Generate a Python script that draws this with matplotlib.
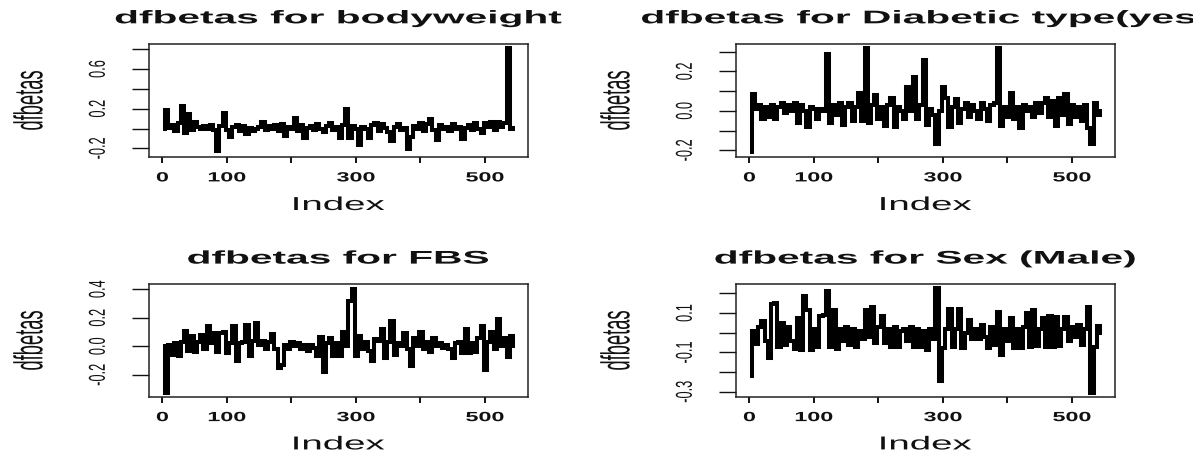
import numpy as np
import matplotlib
matplotlib.use("Agg")
import matplotlib.pyplot as plt
from matplotlib.patheffects import AbstractPathEffect
from matplotlib.transforms import Affine2D

# ---------------- data (dfbetas, sampled every 5th observation) ----------------
bodyweight = [0.0, 0.19, 0.01, 0.04, -0.03, 0.06, 0.23, -0.05, 0.15, -0.02,
              0.07, 0.02, -0.01, 0.03, 0.0, 0.04, -0.02, -0.23, 0.03, 0.16,
              -0.02, -0.09, 0.02, 0.04, -0.03, 0.03, -0.06, 0.01, -0.03, 0.0,
              0.02, 0.07, -0.02, 0.03, 0.0, 0.04, -0.03, 0.05, -0.08, 0.02,
              0.0, 0.11, -0.03, 0.04, -0.1, 0.01, 0.03, -0.02, 0.05, 0.0,
              -0.04, 0.03, 0.06, -0.02, 0.02, -0.1, 0.04, 0.2, -0.1, 0.03,
              0.0, -0.17, 0.02, 0.0, -0.1, 0.04, 0.06, -0.03, 0.05, 0.01,
              -0.04, -0.13, 0.02, 0.05, -0.02, 0.01, -0.21, -0.09, 0.03, 0.0,
              0.06, -0.03, 0.05, 0.1, -0.02, -0.12, 0.04, 0.0, 0.02, -0.03,
              0.05, 0.0, 0.02, -0.11, 0.01, 0.04, -0.02, 0.06, 0.0, -0.05,
              0.06, 0.02, 0.07, -0.02, 0.07, 0.02, 0.06, 0.81, 0.0, 0.01]

diabetic = [-0.21, 0.085, 0.01, 0.03, -0.04, 0.02, -0.03, 0.03, -0.04, 0.02,
            0.04, -0.01, 0.03, 0.0, 0.04, -0.06, 0.03, 0.0, -0.08, 0.02,
            0.01, -0.04, 0.01, 0.0, 0.29, -0.06, 0.03, -0.02, 0.04, -0.07,
            0.02, 0.04, -0.05, 0.02, 0.09, -0.05, 0.32, -0.06, 0.03, 0.08,
            -0.04, 0.02, -0.075, 0.03, 0.065, -0.08, 0.02, 0.0, -0.04, 0.12,
            0.0, 0.17, -0.04, 0.03, 0.26, -0.07, 0.01, -0.02, -0.17, 0.0,
            0.12, 0.065, -0.08, 0.02, 0.058, -0.06, 0.01, 0.04, -0.03, 0.03,
            0.0, -0.04, 0.04, 0.01, -0.05, 0.03, 0.04, 0.32, -0.075, 0.02,
            -0.03, 0.09, -0.04, 0.02, -0.085, 0.03, 0.0, 0.02, -0.03, 0.04,
            -0.01, 0.04, 0.066, -0.03, 0.05, -0.075, 0.066, -0.02, 0.084, -0.067,
            0.03, -0.03, 0.02, -0.05, 0.03, -0.085, -0.17, 0.04, -0.02, 0.0]

fbs = [0.0, -0.325, 0.01, -0.06, 0.02, -0.07, 0.03, 0.11, -0.03, 0.075,
       -0.04, 0.03, 0.08, -0.02, 0.14, 0.02, 0.09, -0.04, 0.09, 0.1,
       -0.05, 0.02, 0.14, -0.1, 0.02, 0.03, 0.146, -0.07, 0.04, 0.16,
       0.01, 0.04, -0.02, 0.03, 0.085, -0.02, -0.15, -0.13, 0.01, -0.02,
       0.03, 0.0, 0.02, -0.02, 0.01, -0.03, 0.01, -0.01, -0.07, 0.065,
       -0.18, 0.02, 0.06, -0.07, 0.02, -0.07, 0.1, 0.0, 0.32, 0.405,
       -0.07, 0.07, -0.02, 0.03, -0.03, -0.105, 0.05, 0.04, 0.12, -0.08,
       0.03, 0.18, -0.06, 0.02, 0.0, 0.09, -0.02, -0.135, 0.06, 0.0,
       0.1, -0.02, 0.03, -0.04, 0.06, 0.0, 0.02, -0.01, 0.01, -0.02,
       -0.08, 0.02, 0.03, -0.05, 0.12, -0.05, 0.02, -0.04, 0.06, 0.14,
       -0.165, 0.03, 0.1, -0.02, 0.19, 0.0, 0.06, -0.075, 0.07, 0.0]

sex_male = [-0.22, 0.01, -0.055, 0.03, 0.06, -0.04, -0.13, 0.145, 0.15, -0.07,
            0.05, -0.06, 0.03, -0.04, -0.085, 0.073, -0.088, 0.186, 0.115, -0.088,
            0.02, -0.075, 0.085, 0.09, 0.21, -0.075, 0.115, -0.083, 0.02, -0.04,
            0.03, -0.06, 0.02, -0.075, 0.01, -0.03, 0.115, -0.02, 0.13, -0.05,
            0.03, 0.085, -0.05, 0.02, -0.07, 0.03, -0.075, 0.01, 0.02, -0.04,
            0.03, -0.07, 0.02, -0.07, 0.01, -0.09, 0.02, -0.03, 0.225, -0.245,
            -0.08, 0.02, 0.118, -0.07, 0.02, 0.123, -0.08, 0.0, 0.064, -0.034,
            0.02, -0.03, 0.04, -0.02, -0.08, 0.03, -0.06, 0.107, -0.113, 0.02,
            -0.04, 0.073, -0.08, 0.02, -0.08, 0.03, 0.098, -0.07, 0.115, -0.068,
            0.02, 0.073, -0.07, 0.085, -0.07, 0.078, -0.065, 0.02, 0.081, -0.04,
            0.03, -0.02, 0.04, -0.063, 0.02, 0.13, -0.305, -0.07, 0.036, 0.0]

titles = ["dfbetas for bodyweight", "dfbetas for Diabetic type(yes)",
          "dfbetas for FBS", "dfbetas for Sex (Male)"]
series = [bodyweight, diabetic, fbs, sex_male]

x_ticks = [0, 100, 200, 300, 400, 500]
x_ticklabels = ["0", "100", "", "300", "", "500"]
y_ticks = [[-0.2, 0.0, 0.2, 0.4, 0.6, 0.8],
           [-0.2, -0.1, 0.0, 0.1, 0.2, 0.3],
           [-0.2, 0.0, 0.2, 0.4],
           [-0.3, -0.2, -0.1, 0.0, 0.1, 0.2]]
y_ticklabels = [["-0.2", "", "0.2", "", "0.6", ""],
                ["-0.2", "", "0.0", "", "0.2", ""],
                ["-0.2", "0.0", "0.2", "0.4"],
                ["-0.3", "", "-0.1", "", "0.1", ""]]
y_limits = [(-0.288, 0.854), (-0.234, 0.339), (-0.354, 0.435), (-0.325, 0.246)]


# ---------------- horizontal stretch of rendered glyphs ----------------
class Stretch(AbstractPathEffect):
    """Scale the glyph outlines about their centre (text stays a real Text)."""

    def __init__(self, sx=1.0, sy=1.0):
        super().__init__()
        self.sx, self.sy = sx, sy

    def draw_path(self, renderer, gc, tpath, affine, rgbFace=None):
        ext = tpath.get_extents()
        cx = (ext.x0 + ext.x1) / 2.0
        cy = (ext.y0 + ext.y1) / 2.0
        t = (Affine2D().translate(-cx, -cy)
             .scale(self.sx, self.sy).translate(cx, cy))
        renderer.draw_path(gc, tpath, t + affine, rgbFace)


plt.rcParams["font.family"] = ["Liberation Sans", "DejaVu Sans"]

W, H = 1193, 455
fig = plt.figure(figsize=(W / 100, H / 100), dpi=100)

# axes boxes in pixel coordinates (left, top, right, bottom)
boxes = [(149, 44, 528, 157), (736, 44, 1115, 157),
         (149, 284.3, 528, 396.7), (736, 284.3, 1115, 396.7)]

index = np.arange(1, 547, 5)

for i, (l, t, r, b) in enumerate(boxes):
    ax = fig.add_axes([l / W, 1 - b / H, (r - l) / W, (b - t) / H])
    ax.plot(index, series[i], color="black", lw=2.9, drawstyle="steps-mid",
            solid_joinstyle="miter", solid_capstyle="butt")
    ax.set_xlim(-20.8, 566.8)
    ax.set_ylim(*y_limits[i])

    for s in ax.spines.values():
        s.set_linewidth(1.1)
        s.set_color("#222222")

    ax.set_xticks(x_ticks, x_ticklabels)
    ax.set_yticks(y_ticks[i], y_ticklabels[i])
    ax.tick_params(axis="x", direction="out", length=4.6, width=1.4,
                   pad=6.5, labelsize=9.6, colors="#111111")
    ax.tick_params(axis="y", direction="out", length=12.2, width=1.0,
                   pad=20, labelsize=9.2, colors="#111111", labelrotation=90)
    for lab in ax.get_xticklabels():
        lab.set_fontweight("bold")
        lab.set_path_effects([Stretch(1.75, 1.0)])
    for lab in ax.get_yticklabels():
        lab.set_va("center")
        lab.set_path_effects([Stretch(1.0, 1.8)])

    ttl = ax.set_title(titles[i], fontsize=13.2, fontweight="bold", pad=14.9,
                       color="#111111")
    ttl.set_path_effects([Stretch(2.22, 1.0)])

    xl = ax.set_xlabel("Index", fontsize=13.5, color="#111111")
    xl.set_va("baseline")
    ax.xaxis.set_label_coords(0.5, -(210 - 157) / 113.0)
    xl.set_path_effects([Stretch(2.05, 1.0)])

    yl = ax.set_ylabel("dfbetas", fontsize=13.2, color="#111111")
    yl.set_va("center")
    ax.yaxis.set_label_coords(-(l - (30 if l < 600 else 617)) / 379.0, 0.5)
    yl.set_path_effects([Stretch(1.0, 2.2)])

fig.savefig("out.png", dpi=100)
